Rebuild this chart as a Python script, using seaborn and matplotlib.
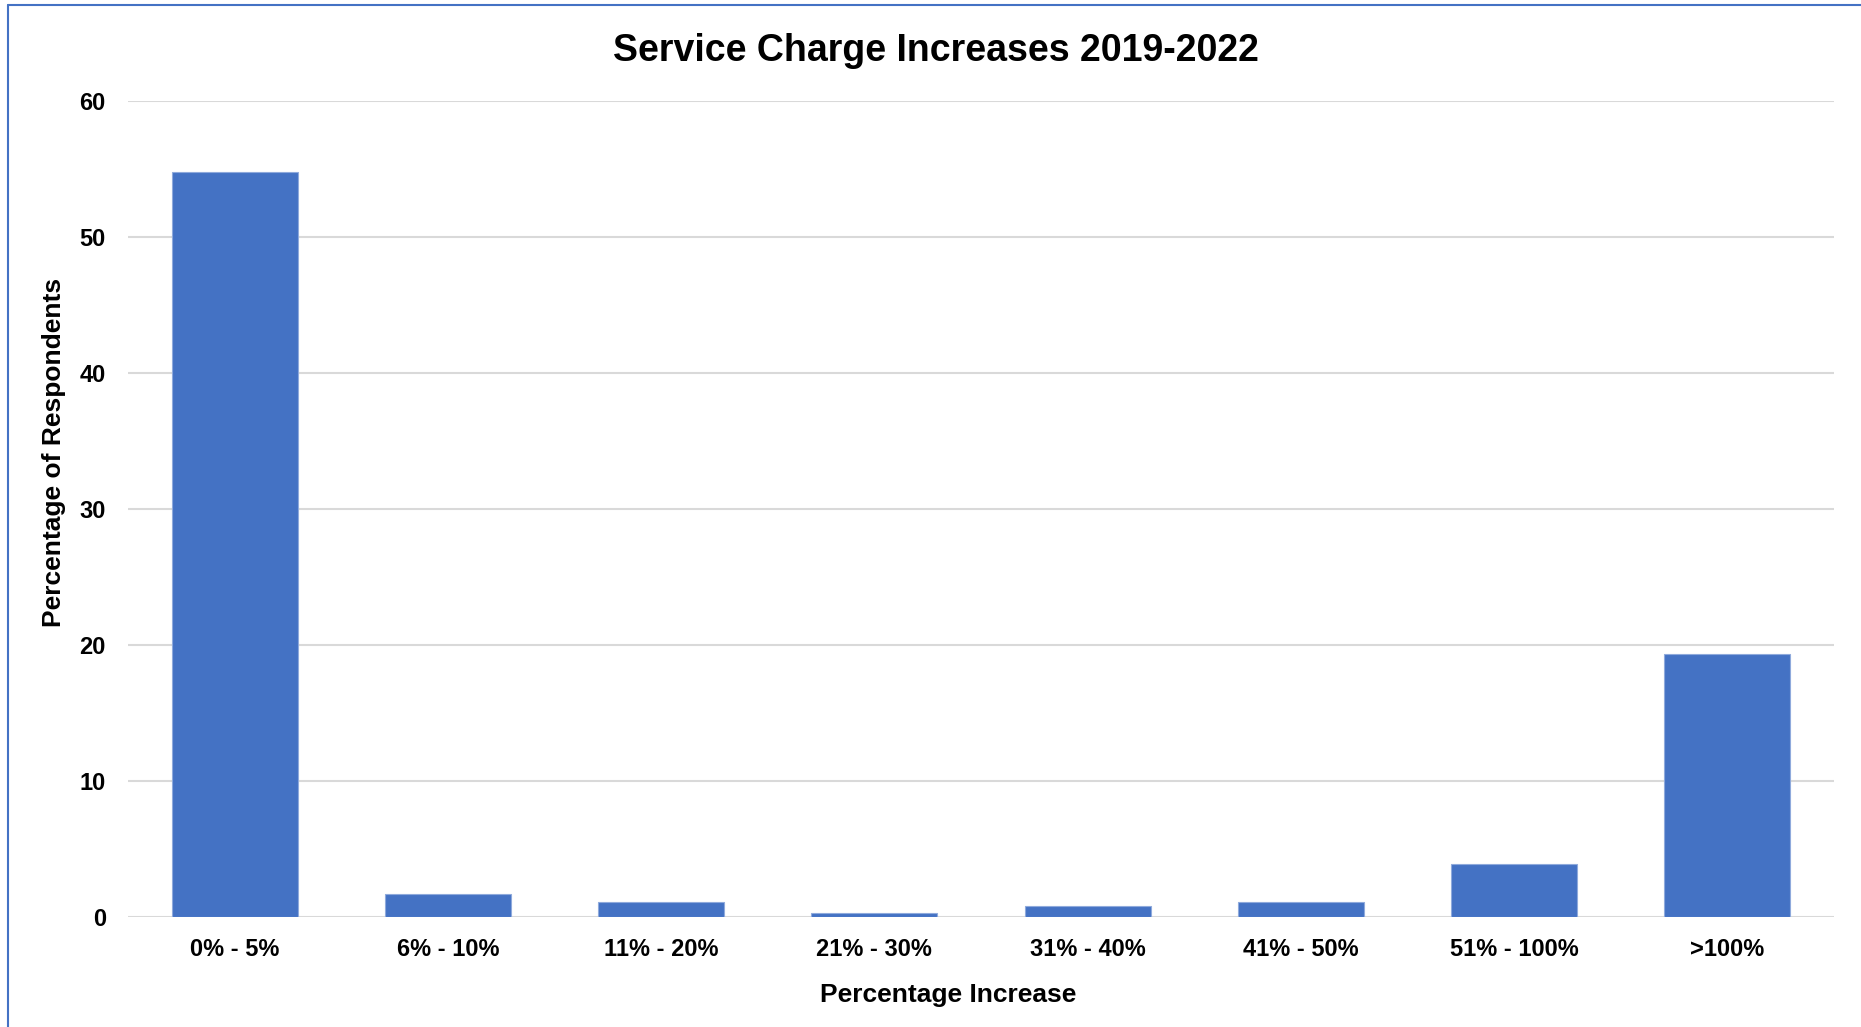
import matplotlib
matplotlib.use("Agg")
import matplotlib.pyplot as plt
from matplotlib.lines import Line2D
import seaborn as sns
import pandas as pd

categories = ["0% - 5%", "6% - 10%", "11% - 20%", "21% - 30%",
              "31% - 40%", "41% - 50%", "51% - 100%", ">100%"]
respondents_pct = [54.8, 1.7, 1.1, 0.3, 0.8, 1.1, 3.9, 19.3]
y_ticks = [0, 10, 20, 30, 40, 50, 60]

df = pd.DataFrame({"band": categories, "pct": respondents_pct})

sns.set_theme(style="white")
plt.rcParams["font.family"] = ["Liberation Sans", "DejaVu Sans"]
plt.rcParams["text.color"] = "black"
plt.rcParams["axes.labelcolor"] = "black"
plt.rcParams["xtick.color"] = "black"
plt.rcParams["ytick.color"] = "black"

fig = plt.figure(figsize=(18.61, 10.27), dpi=100)
ax = fig.add_axes([0.0688, 0.1074, 0.9167, 0.7943])

sns.barplot(data=df, x="band", y="pct", order=categories, color="#4472C4",
            saturation=1, width=0.59, edgecolor="#8FAADC", linewidth=0.8,
            ax=ax, zorder=3)

ax.set_ylim(0, 60)
ax.set_xlim(-0.5, len(categories) - 0.5)
ax.set_yticks(y_ticks)
ax.set_yticklabels([str(t) for t in y_ticks], fontsize=17, fontweight="bold")
ax.tick_params(axis="x", labelsize=17, pad=15, length=0)
ax.tick_params(axis="y", pad=16, length=0)
for lbl in ax.get_xticklabels():
    lbl.set_fontweight("bold")

ax.yaxis.grid(True, color="#D9D9D9", linewidth=1.5, zorder=0)
ax.set_axisbelow(True)
for s in ax.spines.values():
    s.set_visible(False)

ax.set_xlabel("Percentage Increase", fontsize=19, fontweight="bold", labelpad=16)
ax.xaxis.label.set_x(0.4806)
ax.set_ylabel("Percentage of Respondents", fontsize=19, fontweight="bold")
ax.yaxis.set_label_coords(-0.0366, 0.569)
fig.text(0.503, 0.9505, "Service Charge Increases 2019-2022", fontsize=27,
         fontweight="bold", ha="center", va="center")

# chart-area border along the top and left edges
fig.add_artist(Line2D([0.0043, 1.0], [0.9948, 0.9948], color="#4472C4", linewidth=1.5,
                      transform=fig.transFigure))
fig.add_artist(Line2D([0.0043, 0.0043], [0.0, 0.9948], color="#4472C4", linewidth=1.5,
                      transform=fig.transFigure))

fig.savefig("out.png", dpi=100, facecolor="white")
